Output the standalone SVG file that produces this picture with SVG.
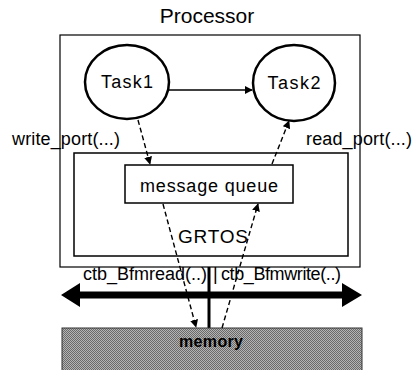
<svg xmlns="http://www.w3.org/2000/svg" width="416" height="370" viewBox="0 0 416 370">
<style>
text{font-family:"Liberation Sans",Arial,sans-serif;fill:#000}
.lbl{font-size:18px}
.box{fill:#fff;stroke:#000}
.dash{fill:none;stroke:#000;stroke-width:1.4;stroke-dasharray:5,3}
.solid{fill:none;stroke:#000;stroke-width:1.3}
</style>
<defs>
<marker id="ah" viewBox="0 0 10 10" refX="9" refY="5" markerWidth="8" markerHeight="8" markerUnits="userSpaceOnUse" orient="auto">
<path d="M0,0 L10,5 L0,10 z" fill="#000"/>
</marker>
<pattern id="dither" width="2" height="2" patternUnits="userSpaceOnUse">
<rect width="2" height="2" fill="#b4b4b4"/>
<rect width="1" height="1" fill="#6a6a6a"/>
<rect x="1" y="1" width="1" height="1" fill="#6a6a6a"/>
</pattern>
</defs>
<rect width="416" height="370" fill="#fff"/>
<text x="207" y="23" text-anchor="middle" font-size="21">Processor</text>
<g id="processor">
<rect class="box" x="60" y="35" width="300" height="232" stroke-width="1.2"/>
</g>
<g id="grtos">
<rect class="box" x="74" y="153" width="274" height="103" stroke-width="1.5"/>
<text x="213" y="243" text-anchor="middle" textLength="70" font-size="19">GRTOS</text>
</g>
<g id="message-queue">
<rect class="box" x="125" y="165" width="168" height="38" stroke-width="1.5"/>
<text class="lbl" x="209" y="192" text-anchor="middle" textLength="138">message queue</text>
</g>
<g id="task1">
<ellipse cx="127" cy="82" rx="42" ry="37" fill="#fff" stroke="#000" stroke-width="2.5"/>
<text class="lbl" x="127" y="88" text-anchor="middle" textLength="52">Task1</text>
</g>
<g id="task2">
<ellipse cx="294" cy="83" rx="41" ry="38" fill="#fff" stroke="#000" stroke-width="2.5"/>
<text class="lbl" x="294" y="89" text-anchor="middle" textLength="53">Task2</text>
</g>
<g id="bus">
<polygon points="61,295 80,283 80,291.5 342,291.5 342,283 362,295 342,307 342,298.5 80,298.5 80,307" fill="#000"/>
<line x1="209" y1="267" x2="209" y2="328" stroke="#000" stroke-width="3"/>
<text class="lbl" x="83" y="280" textLength="124">ctb_Bfmread(..)</text>
<text class="lbl" x="213" y="280">|</text>
<text class="lbl" x="221" y="280" textLength="120">ctb_Bfmwrite(..)</text>
</g>
<g id="memory">
<rect x="62" y="328" width="300" height="44" fill="url(#dither)" stroke="#333" stroke-width="1"/>
<text x="211" y="347" text-anchor="middle" font-size="16" font-weight="bold" textLength="64">memory</text>
</g>
<g id="connectors">
<line class="solid" x1="169" y1="90" x2="252" y2="90" marker-end="url(#ah)"/>
<line class="dash" x1="138" y1="120" x2="150" y2="164" marker-end="url(#ah)"/>
<line class="dash" x1="272" y1="164" x2="289" y2="121" marker-end="url(#ah)"/>
<line class="dash" x1="163" y1="204" x2="196" y2="327" marker-end="url(#ah)"/>
<line class="dash" x1="222" y1="328" x2="258" y2="204" marker-end="url(#ah)"/>
</g>
<text class="lbl" x="12" y="145" textLength="108">write_port(...)</text>
<text class="lbl" x="306" y="145" textLength="106">read_port(...)</text>
</svg>
